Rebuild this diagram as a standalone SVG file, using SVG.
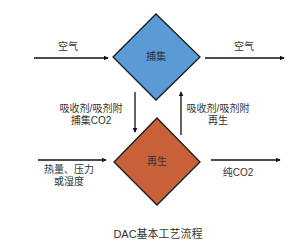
<svg xmlns="http://www.w3.org/2000/svg" width="300" height="247" viewBox="0 0 300 247">
<style>
text{font-family:"Liberation Sans","Noto Sans CJK SC",sans-serif;font-size:10px;fill:#333;text-anchor:middle}
.d{stroke:#1a1a1a;stroke-width:1.3}
.c{stroke:#111;stroke-width:1.3;fill:none;marker-end:url(#ah)}
</style>
<defs>
<marker id="ah" viewBox="0 0 8 8" refX="7" refY="4" markerWidth="5" markerHeight="5" markerUnits="userSpaceOnUse" orient="auto">
<path d="M0,0L8,4L0,8z" fill="#111"/>
</marker>
</defs>
<rect width="300" height="247" fill="#fff"/>
<g id="connectors">
<line class="c" x1="34" y1="58" x2="108" y2="58"/>
<line class="c" x1="205" y1="58" x2="284" y2="58"/>
<line class="c" x1="135" y1="92" x2="135" y2="132"/>
<line class="c" x1="181" y1="135" x2="181" y2="92"/>
<line class="c" x1="38" y1="160" x2="106" y2="160"/>
<line class="c" x1="211" y1="160" x2="280" y2="160"/>
<text x="68" y="50">空气</text>
<text x="244" y="50">空气</text>
<text x="91" y="112">吸收剂/吸剂附<tspan x="91" dy="12">捕集CO2</tspan></text>
<text x="218" y="112">吸收剂/吸剂附<tspan x="218" dy="12">再生</tspan></text>
<text x="69" y="173">热量、压力<tspan x="69" dy="12">或湿度</tspan></text>
<text x="238" y="176">纯CO2</text>
</g>
<g id="capture">
<polygon class="d" points="156,14 200,57 156,100 113,57" fill="#5b9bd5"/>
<text x="156" y="60">捕集</text>
</g>
<g id="regen">
<polygon class="d" points="157,118 200,162 157,205 114,162" fill="#c8613a"/>
<text x="157" y="165">再生</text>
</g>
<text x="158" y="238" style="font-size:11px">DAC基本工艺流程</text>
</svg>
